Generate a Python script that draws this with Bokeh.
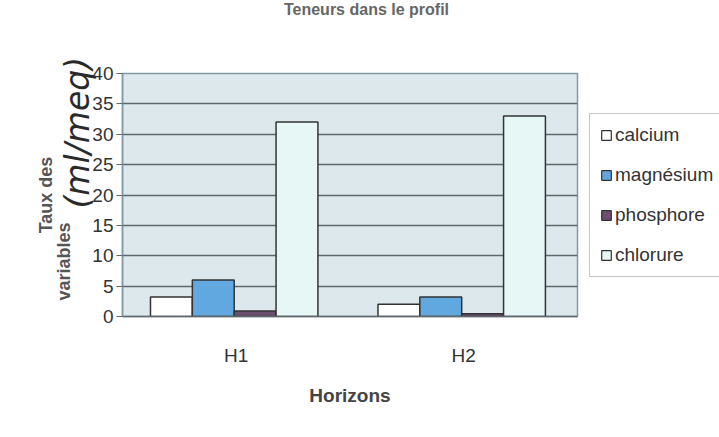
from bokeh.embed import file_html
from bokeh.layouts import column, row
from bokeh.models import (FactorRange, FixedTicker, Label, Legend, LegendItem,
                          Range1d, Title)
from bokeh.plotting import figure
from bokeh.resources import INLINE
from bokeh.transform import dodge

# Values per horizon
horizons = ["H1", "H2"]
calcium = [3.2, 2.0]
magnesium = [6.0, 3.2]
phosphore = [0.9, 0.45]
chlorure = [32.0, 33.0]

series_names = ["calcium", "magnésium", "phosphore", "chlorure"]
series_values = [calcium, magnesium, phosphore, chlorure]
series_colors = ["#ffffff", "#62a8e0", "#6c4f6e", "#e6f7f6"]
y_ticks = [0, 5, 10, 15, 20, 25, 30, 35, 40]

W, H = 719, 437
HEAD_H = 18                 # strip carrying the chart title
LEFT, RIGHT_PAD = 122, 3
FRAME_W = 455
MAIN_W = LEFT + FRAME_W + RIGHT_PAD
TOP, BOTTOM = 73 - HEAD_H, 121
LEG_W = W - MAIN_W

common = dict(output_backend="svg", toolbar_location=None)

# ---- title strip ------------------------------------------------------------
head = figure(width=MAIN_W, height=HEAD_H, x_range=Range1d(0, 1),
              y_range=Range1d(0, 1), x_axis_type=None, y_axis_type=None,
              min_border_left=LEFT, min_border_right=RIGHT_PAD,
              min_border_top=0, min_border_bottom=0, **common)
head.grid.grid_line_color = None
head.outline_line_color = None
head.add_layout(Label(x=(366 - LEFT) / FRAME_W, y=0.5,
                      text="Teneurs dans le profil", text_align="center",
                      text_baseline="middle", text_font="Liberation Sans",
                      text_font_size="16px", text_font_style="bold",
                      text_color="#666666"))

# ---- main chart -------------------------------------------------------------
p = figure(
    width=MAIN_W, height=H - HEAD_H,
    x_range=FactorRange(*horizons, range_padding=0),
    y_range=Range1d(0, 40),
    min_border_left=LEFT, min_border_right=RIGHT_PAD,
    min_border_top=TOP, min_border_bottom=BOTTOM, **common,
)
p.background_fill_color = "#dde8ec"
p.border_fill_color = "#ffffff"
p.outline_line_color = "#7f9aa2"
p.outline_line_width = 1.5

p.xgrid.grid_line_color = None
p.ygrid.ticker = FixedTicker(ticks=y_ticks)
p.ygrid.grid_line_color = "#5f676b"
p.ygrid.grid_line_width = 1.5

yax = p.yaxis[0]
yax.ticker = FixedTicker(ticks=y_ticks)
yax.axis_line_color = "#7f9aa2"
yax.axis_line_width = 1.5
yax.major_tick_line_color = "#5f676b"
yax.major_tick_out = 6
yax.major_tick_in = 0
yax.minor_tick_line_color = None
yax.major_label_text_font = "Liberation Sans"
yax.major_label_text_font_size = "19px"
yax.major_label_text_color = "#333333"
yax.major_label_standoff = 3

xax = p.xaxis[0]
xax.axis_line_color = "#5f676b"
xax.axis_line_width = 1.5
xax.major_tick_line_color = None
xax.minor_tick_line_color = None
xax.major_label_text_font = "Liberation Sans"
xax.major_label_text_font_size = "19px"
xax.major_label_text_color = "#333333"
xax.major_label_standoff = 22
xax.axis_label = "Horizons"
xax.axis_label_text_font = "Liberation Sans"
xax.axis_label_text_font_size = "19px"
xax.axis_label_text_font_style = "bold"
xax.axis_label_text_color = "#444444"
xax.axis_label_standoff = 16

p.title.text = ""
p.title.standoff = 0

bar_w = 0.184
offsets = [-0.285, -0.101, 0.083, 0.267]
for vals, col, off in zip(series_values, series_colors, offsets):
    p.vbar(x=dodge("h", off, range=p.x_range), top="v", width=bar_w,
           source={"h": horizons, "v": vals},
           fill_color=col, line_color="#333333", line_width=1.5)

# vertical axis title, stacked outward from the axis; negative standoffs
# let the pieces share columns the way the two-line title does
hand = Title(text="(ml/meq)", align="left", offset=108,
             text_font="DejaVu Sans", text_font_style="italic",
             text_font_size="33px", text_color="#2a2a2a")
var = Title(text="variables", align="left", offset=16,
            text_font="Liberation Sans", text_font_style="bold",
            text_font_size="18px", text_color="#555555")
taux = Title(text="Taux des", align="center", standoff=13,
             text_font="Liberation Sans", text_font_style="bold",
             text_font_size="18px", text_color="#555555")
for t, s in ((hand, -15), (var, -21)):
    try:
        t.standoff = s
    except ValueError:
        t.standoff = 0
p.add_layout(hand, "left")
p.add_layout(var, "left")
p.add_layout(taux, "left")

# ---- legend strip -----------------------------------------------------------
# hidden renderers carrying each series' style, used only for the swatches
lg = figure(width=LEG_W, height=H - HEAD_H, x_range=Range1d(0, 1),
            y_range=Range1d(0, 40), x_axis_type=None, y_axis_type=None,
            min_border_left=0, min_border_right=0,
            min_border_top=TOP, min_border_bottom=BOTTOM, **common)
lg.grid.grid_line_color = None
lg.outline_line_color = None
items = []
for name, vals, col in zip(series_names, series_values, series_colors):
    r = lg.vbar(x=[0.5] * len(vals), top=vals, width=0.1, fill_color=col,
                line_color="#333333", line_width=1.2)
    r.visible = False
    items.append(LegendItem(label=name, renderers=[r]))
legend = Legend(
    items=items, location=(589 - MAIN_W, 316 - 277),
    label_text_font="Liberation Sans", label_text_font_size="19px",
    label_text_color="#333333", glyph_width=12, glyph_height=12,
    label_height=20, label_standoff=3, spacing=18, padding=10,
    border_line_color="#8a8a8a", border_line_width=1.2,
    background_fill_color="#ffffff", background_fill_alpha=1,
    inactive_fill_alpha=0,
)
lg.add_layout(legend)

layout = column(head, row(p, lg))
open("out.html", "w").write(file_html(layout, INLINE))
